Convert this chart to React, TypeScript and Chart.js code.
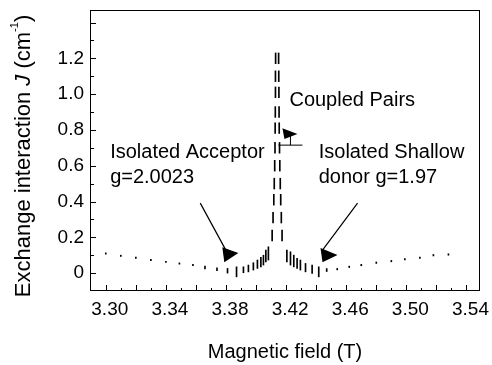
import React, { useEffect, useRef } from 'react';
import { Chart, registerables } from 'chart.js';
Chart.register(...registerables);

const FONT = 'Liberation Sans, Arial, Helvetica, sans-serif';

// Axis tick labels
const xTickValues = [3.30, 3.34, 3.38, 3.42, 3.46, 3.50, 3.54];
const yTickValues = [0, 0.2, 0.4, 0.6, 0.8, 1.0, 1.2];

// Left tail (isolated acceptor side)
const leftTailField = [3.300, 3.310, 3.320, 3.330, 3.340, 3.349, 3.358, 3.366, 3.374, 3.381, 3.387];
const leftTailLow = [0.106, 0.093, 0.082, 0.070, 0.059, 0.050, 0.041, 0.024, 0.013, 0.0, -0.021];
const leftTailHigh = [0.113, 0.100, 0.089, 0.077, 0.066, 0.057, 0.049, 0.039, 0.030, 0.026, 0.035];

// Left cluster approaching the peak
const leftClusterField = [3.3916, 3.3949, 3.3982, 3.4009, 3.4032, 3.4049, 3.4065, 3.4082];
const leftClusterLow = [0.002, 0.007, 0.017, 0.026, 0.035, 0.045, 0.063, 0.073];
const leftClusterHigh = [0.035, 0.045, 0.058, 0.073, 0.088, 0.100, 0.128, 0.147];

// Coupled pairs peak (two converging columns)
const peakLeftField = [3.4107, 3.4113, 3.4118, 3.4121, 3.4124, 3.4126, 3.4127, 3.4128, 3.4129, 3.4129, 3.4130];
const peakRightField = [3.4173, 3.4168, 3.4164, 3.4161, 3.4158, 3.4156, 3.4154, 3.4153, 3.4152, 3.4151, 3.4150];
const peakLow = [0.18, 0.28, 0.38, 0.47, 0.57, 0.67, 0.78, 0.87, 0.98, 1.07, 1.17];
const peakHigh = [0.24, 0.34, 0.44, 0.53, 0.63, 0.73, 0.84, 0.93, 1.04, 1.13, 1.23];

// Right cluster leaving the peak
const rightClusterField = [3.4205, 3.4229, 3.4251, 3.4273, 3.4295, 3.4329, 3.4373, 3.4417];
const rightClusterLow = [0.063, 0.045, 0.035, 0.026, 0.017, 0.007, -0.002, -0.021];
const rightClusterHigh = [0.128, 0.119, 0.100, 0.082, 0.073, 0.054, 0.045, 0.035];

// Right tail (isolated shallow donor side)
const rightTailField = [3.447, 3.454, 3.462, 3.470, 3.480, 3.490, 3.499, 3.509, 3.518, 3.528];
const rightTailLow = [0.009, 0.018, 0.031, 0.041, 0.054, 0.063, 0.073, 0.082, 0.096, 0.100];
const rightTailHigh = [0.025, 0.026, 0.039, 0.049, 0.062, 0.071, 0.081, 0.090, 0.104, 0.108];

const toBars = (f: number[], lo: number[], hi: number[]) =>
  f.map((x, i) => ({ x, y: [lo[i], hi[i]] }));

const annotationPlugin = {
  id: 'annot',
  afterDraw(chart: any) {
    const { ctx, chartArea: a, scales } = chart;
    const xs = scales.x;
    const ys = scales.y;
    const X = (v: number) => xs.getPixelForValue(v);
    const Y = (v: number) => ys.getPixelForValue(v);
    ctx.save();
    ctx.strokeStyle = '#000';
    ctx.fillStyle = '#000';
    ctx.lineWidth = 1;
    // frame
    ctx.strokeRect(a.left + 0.5, a.top + 0.5, a.right - a.left - 1, a.bottom - a.top - 1);
    // inward ticks
    ctx.beginPath();
    for (let i = 0; i <= 24; i++) {
      const px = Math.round(X(3.30 + i * 0.01)) + 0.5;
      const len = i % 2 === 0 ? 6 : 3;
      ctx.moveTo(px, a.bottom);
      ctx.lineTo(px, a.bottom - len);
    }
    for (let i = 0; i <= 14; i++) {
      const v = i * 0.1;
      if (v > ys.max) break;
      const py = Math.round(Y(v)) + 0.5;
      const len = i % 2 === 0 ? 6 : 4;
      ctx.moveTo(a.left, py);
      ctx.lineTo(a.left + len, py);
    }
    ctx.stroke();

    // texts
    ctx.font = `20px ${FONT}`;
    ctx.textBaseline = 'alphabetic';
    ctx.textAlign = 'left';
    ctx.fillText('Coupled Pairs', X(3.4222), Y(0.933));
    ctx.fillText('Isolated Acceptor', X(3.3029), Y(0.642));
    ctx.fillText('g=2.0023', X(3.3029), Y(0.504));
    ctx.fillText('Isolated Shallow', X(3.4417), Y(0.642));
    ctx.fillText('donor g=1.97', X(3.4417), Y(0.504));

    // arrows
    ctx.lineWidth = 1.2;
    ctx.beginPath();
    ctx.moveTo(X(3.36287), Y(0.391));
    ctx.lineTo(X(3.37953), Y(0.134));
    ctx.moveTo(X(3.46753), Y(0.391));
    ctx.lineTo(X(3.44420), Y(0.128));
    ctx.stroke();
    const tri = (p: number[][]) => {
      ctx.beginPath();
      ctx.moveTo(X(p[0][0]), Y(p[0][1]));
      ctx.lineTo(X(p[1][0]), Y(p[1][1]));
      ctx.lineTo(X(p[2][0]), Y(p[2][1]));
      ctx.closePath();
      ctx.fill();
    };
    tri([[3.3882, 0.112], [3.37753, 0.145], [3.37887, 0.061]]);
    tri([[3.4542, 0.101], [3.44287, 0.140], [3.4442, 0.061]]);
    // flag symbol
    tri([[3.41753, 0.810], [3.42753, 0.777], [3.41887, 0.749]]);
    ctx.lineWidth = 1;
    ctx.beginPath();
    ctx.moveTo(X(3.42287), Y(0.777));
    ctx.lineTo(X(3.42287), Y(0.715));
    ctx.moveTo(X(3.41487), Y(0.715));
    ctx.lineTo(X(3.43087), Y(0.715));
    ctx.stroke();

    // y-axis title (rotated, with italic J and superscript)
    const parts = [
      { t: 'Exchange interaction ', f: `22px ${FONT}`, dy: 0 },
      { t: 'J', f: `italic 22px ${FONT}`, dy: 0 },
      { t: ' (cm', f: `22px ${FONT}`, dy: 0 },
      { t: '-1', f: `11px ${FONT}`, dy: -9 },
      { t: ')', f: `22px ${FONT}`, dy: 0 },
    ];
    let total = 0;
    const widths = parts.map((p) => {
      ctx.font = p.f;
      const w = ctx.measureText(p.t).width;
      total += w;
      return w;
    });
    ctx.translate(24, 156);
    ctx.rotate(-Math.PI / 2);
    ctx.textBaseline = 'middle';
    let cx = -total / 2;
    parts.forEach((p, i) => {
      ctx.font = p.f;
      ctx.fillText(p.t, cx, p.dy);
      cx += widths[i];
    });
    ctx.restore();
  },
};

export default function App() {
  const ref = useRef<HTMLCanvasElement>(null);
  useEffect(() => {
    document.body.style.margin = '0';
    const canvas = ref.current!;
    const barStyle = {
      backgroundColor: '#000',
      borderWidth: 0,
      barThickness: 1,
      grouped: false,
    };
    const chart = new Chart(canvas, {
      type: 'bar',
      data: {
        datasets: [
          { label: 'left tail', data: toBars(leftTailField, leftTailLow, leftTailHigh), ...barStyle },
          { label: 'left cluster', data: toBars(leftClusterField, leftClusterLow, leftClusterHigh), ...barStyle },
          { label: 'peak left', data: toBars(peakLeftField, peakLow, peakHigh), ...barStyle },
          { label: 'peak right', data: toBars(peakRightField, peakLow, peakHigh), ...barStyle },
          { label: 'right cluster', data: toBars(rightClusterField, rightClusterLow, rightClusterHigh), ...barStyle },
          { label: 'right tail', data: toBars(rightTailField, rightTailLow, rightTailHigh), ...barStyle },
        ] as any,
      },
      options: {
        animation: false,
        responsive: false,
        maintainAspectRatio: false,
        layout: { padding: { left: 0, right: 12, top: 10, bottom: 0 } },
        plugins: { legend: { display: false }, tooltip: { enabled: false } },
        scales: {
          x: {
            type: 'linear',
            min: 3.2895,
            max: 3.549,
            offset: false,
            afterFit: (s: any) => { s.height = 74; s.paddingLeft = 0; s.paddingRight = 0; },
            afterBuildTicks: (s: any) => { s.ticks = xTickValues.map((v) => ({ value: v })); },
            ticks: {
              color: '#000',
              font: { family: FONT, size: 19 },
              padding: 7,
              labelOffset: 4,
              maxRotation: 0,
              autoSkip: false,
              callback: (v: any) => Number(v).toFixed(2),
            },
            grid: { display: false, drawTicks: false },
            border: { display: false },
            title: {
              display: true,
              text: 'Magnetic field (T)',
              color: '#000',
              font: { family: FONT, size: 20 },
              padding: { top: 0, bottom: 1 },
            },
          },
          y: {
            type: 'linear',
            min: -0.1,
            max: 1.47,
            afterFit: (s: any) => { s.width = 90; s.paddingTop = 0; s.paddingBottom = 0; },
            afterBuildTicks: (s: any) => { s.ticks = yTickValues.map((v) => ({ value: v })); },
            ticks: {
              color: '#000',
              font: { family: FONT, size: 19 },
              padding: 6,
              autoSkip: false,
              callback: (v: any) => (Number(v) === 0 ? '0' : Number(v).toFixed(1)),
            },
            grid: { display: false, drawTicks: false },
            border: { display: false },
          },
        },
      } as any,
      plugins: [annotationPlugin],
    });
    return () => chart.destroy();
  }, []);
  return <canvas ref={ref} width={492} height={365} style={{ display: 'block' }} />;
}
